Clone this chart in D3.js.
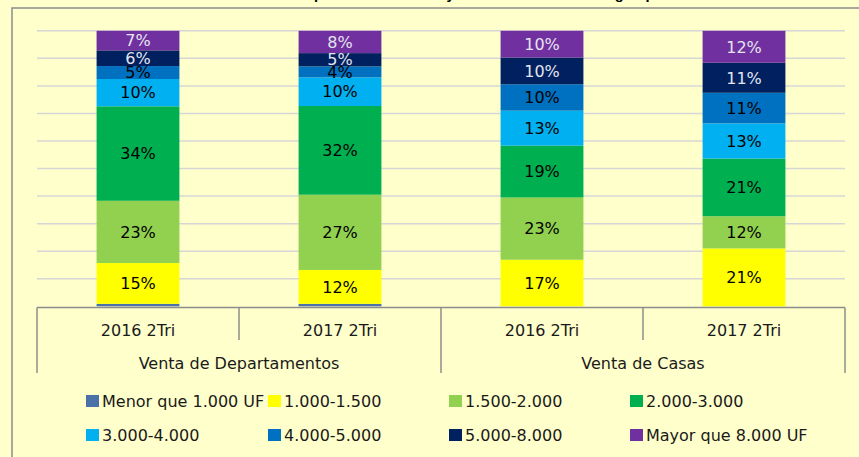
<!DOCTYPE html>
<html><head><meta charset="utf-8">
<script src="https://cdn.jsdelivr.net/npm/d3@7"></script>
<style>html,body{margin:0;padding:0;background:#FFFFCC;}svg{display:block;}</style>
</head><body><svg id="c" width="859" height="457"></svg>
<script>
// ---- data ----
const titleText = "Distribución de ventas por tramo de valor y tamaño de vivienda según precio";
const groups = ["Venta de Departamentos", "Venta de Casas"];
const periods = ["2016 2Tri", "2017 2Tri", "2016 2Tri", "2017 2Tri"];
const seriesNames = ["Menor que 1.000 UF", "1.000-1.500", "1.500-2.000", "2.000-3.000",
                     "3.000-4.000", "4.000-5.000", "5.000-8.000", "Mayor que 8.000 UF"];
const sMenor1000 = [0.9, 0.9, 0, 0];
const s1000_1500 = [14.8, 12.3, 16.9, 21.0];
const s1500_2000 = [22.6, 27.3, 22.6, 11.7];
const s2000_3000 = [34.3, 32.2, 18.8, 20.9];
const s3000_4000 = [9.9, 10.4, 12.7, 12.8];
const s4000_5000 = [4.7, 4.0, 9.6, 11.1];
const s5000_8000 = [5.7, 4.8, 9.7, 10.9];
const sMayor8000 = [7.1, 8.1, 9.7, 11.6];
const yTicks = [0, 10, 20, 30, 40, 50, 60, 70, 80, 90, 100];

const seriesValues = [sMenor1000, s1000_1500, s1500_2000, s2000_3000, s3000_4000, s4000_5000, s5000_8000, sMayor8000];
const colors = ["#4A72A9", "#FFFF00", "#92D050", "#00B050", "#00B0F0", "#0070C0", "#002060", "#7030A0"];
const labelColors = ["#000", "#000", "#000", "#000", "#000", "#000", "#E4E4EE", "#E4E4EE"];

const svg = d3.select("#c");
const FONT = "DejaVu Sans, sans-serif";

// background
svg.append("rect").attr("width", 859).attr("height", 457).attr("fill", "#FFFFCC");

// title (mostly cut off at top)
const title = svg.append("text").text(titleText)
  .attr("font-family", "Liberation Sans, sans-serif").attr("font-weight", "bold")
  .attr("font-size", 18).attr("y", -1).attr("fill", "#000");
{
  const node = title.node();
  const i1 = titleText.indexOf("por"), i2 = titleText.lastIndexOf("precio");
  const a = node.getSubStringLength(0, i1), b = node.getSubStringLength(0, i2);
  const fs = 18 * (647 - 315) / (b - a);
  title.attr("font-size", fs);
  const a2 = node.getSubStringLength(0, i1);
  title.attr("x", 315 - a2 - 1);
}

// outer border
svg.append("path").attr("d", "M12,470 L12,8 L870,8").attr("fill", "none")
  .attr("stroke", "#8C8C8C").attr("stroke-width", 1.5);

// scales
const x = d3.scaleBand().domain(d3.range(periods.length)).range([37, 845])
  .paddingInner(0.59).paddingOuter(0.295);
const y = d3.scaleLinear().domain([0, 100]).range([306.3, 30.8]);

// gridlines
svg.append("g").selectAll("line").data(yTicks.filter(t => t > 0)).join("line")
  .attr("x1", 37).attr("x2", 845)
  .attr("y1", d => y(d)).attr("y2", d => y(d))
  .attr("stroke", "#D6D6D6").attr("stroke-width", 1.5);

// stack
const rows = periods.map((p, i) => {
  const r = { idx: i };
  seriesNames.forEach((s, k) => r[s] = seriesValues[k][i]);
  return r;
});
const stacked = d3.stack().keys(seriesNames)(rows);

const gBars = svg.append("g");
stacked.forEach((layer, k) => {
  gBars.append("g").attr("fill", colors[k]).selectAll("rect").data(layer).join("rect")
    .attr("x", d => x(d.data.idx))
    .attr("width", x.bandwidth())
    .attr("y", d => y(d[1]))
    .attr("height", d => Math.max(0, y(d[0]) - y(d[1])));
});

// labels
stacked.forEach((layer, k) => {
  svg.append("g").selectAll("text").data(layer.filter(d => d[1] - d[0] >= 2)).join("text")
    .attr("x", d => x(d.data.idx) + x.bandwidth() / 2)
    .attr("y", d => (y(d[0]) + y(d[1])) / 2)
    .attr("dy", "0.36em")
    .attr("text-anchor", "middle")
    .attr("font-family", FONT).attr("font-size", 16)
    .attr("fill", labelColors[k])
    .text(d => Math.round(d[1] - d[0]) + "%");
});

// axis (multi-level categories)
const axisY = y(0) + 1.2;
const step = x.step();
const x0 = 37;
const ax = svg.append("g").attr("stroke", "#8C8C8C").attr("stroke-width", 1.5);
ax.append("line").attr("x1", x0).attr("x2", x0 + step * periods.length).attr("y1", axisY).attr("y2", axisY);
d3.range(periods.length + 1).forEach(i => {
  const isGroup = i % 2 === 0;
  ax.append("line").attr("x1", x0 + i * step).attr("x2", x0 + i * step)
    .attr("y1", axisY).attr("y2", isGroup ? 373 : 340);
});
svg.append("g").selectAll("text").data(periods).join("text")
  .attr("x", (d, i) => x(i) + x.bandwidth() / 2)
  .attr("y", 330).attr("dy", "0.36em").attr("text-anchor", "middle")
  .attr("font-family", FONT).attr("font-size", 16).attr("fill", "#1A1A1A")
  .text(d => d);
svg.append("g").selectAll("text").data(groups).join("text")
  .attr("x", (d, i) => x0 + step * (2 * i + 1))
  .attr("y", 363).attr("dy", "0.36em").attr("text-anchor", "middle")
  .attr("font-family", FONT).attr("font-size", 16).attr("fill", "#1A1A1A")
  .text(d => d);

// legend
const legCols = [86, 268, 449, 630];
const legRows = [401, 435];
const leg = svg.append("g").selectAll("g").data(seriesNames).join("g")
  .attr("transform", (d, i) => `translate(${legCols[i % 4]},${legRows[Math.floor(i / 4)]})`);
leg.append("rect").attr("x", 0).attr("y", -6).attr("width", 13).attr("height", 12)
  .attr("fill", (d, i) => colors[i]);
leg.append("text").attr("x", 16).attr("dy", "0.36em")
  .attr("font-family", FONT).attr("font-size", 16).attr("fill", "#1A1A1A")
  .text(d => d);
</script></body></html>
